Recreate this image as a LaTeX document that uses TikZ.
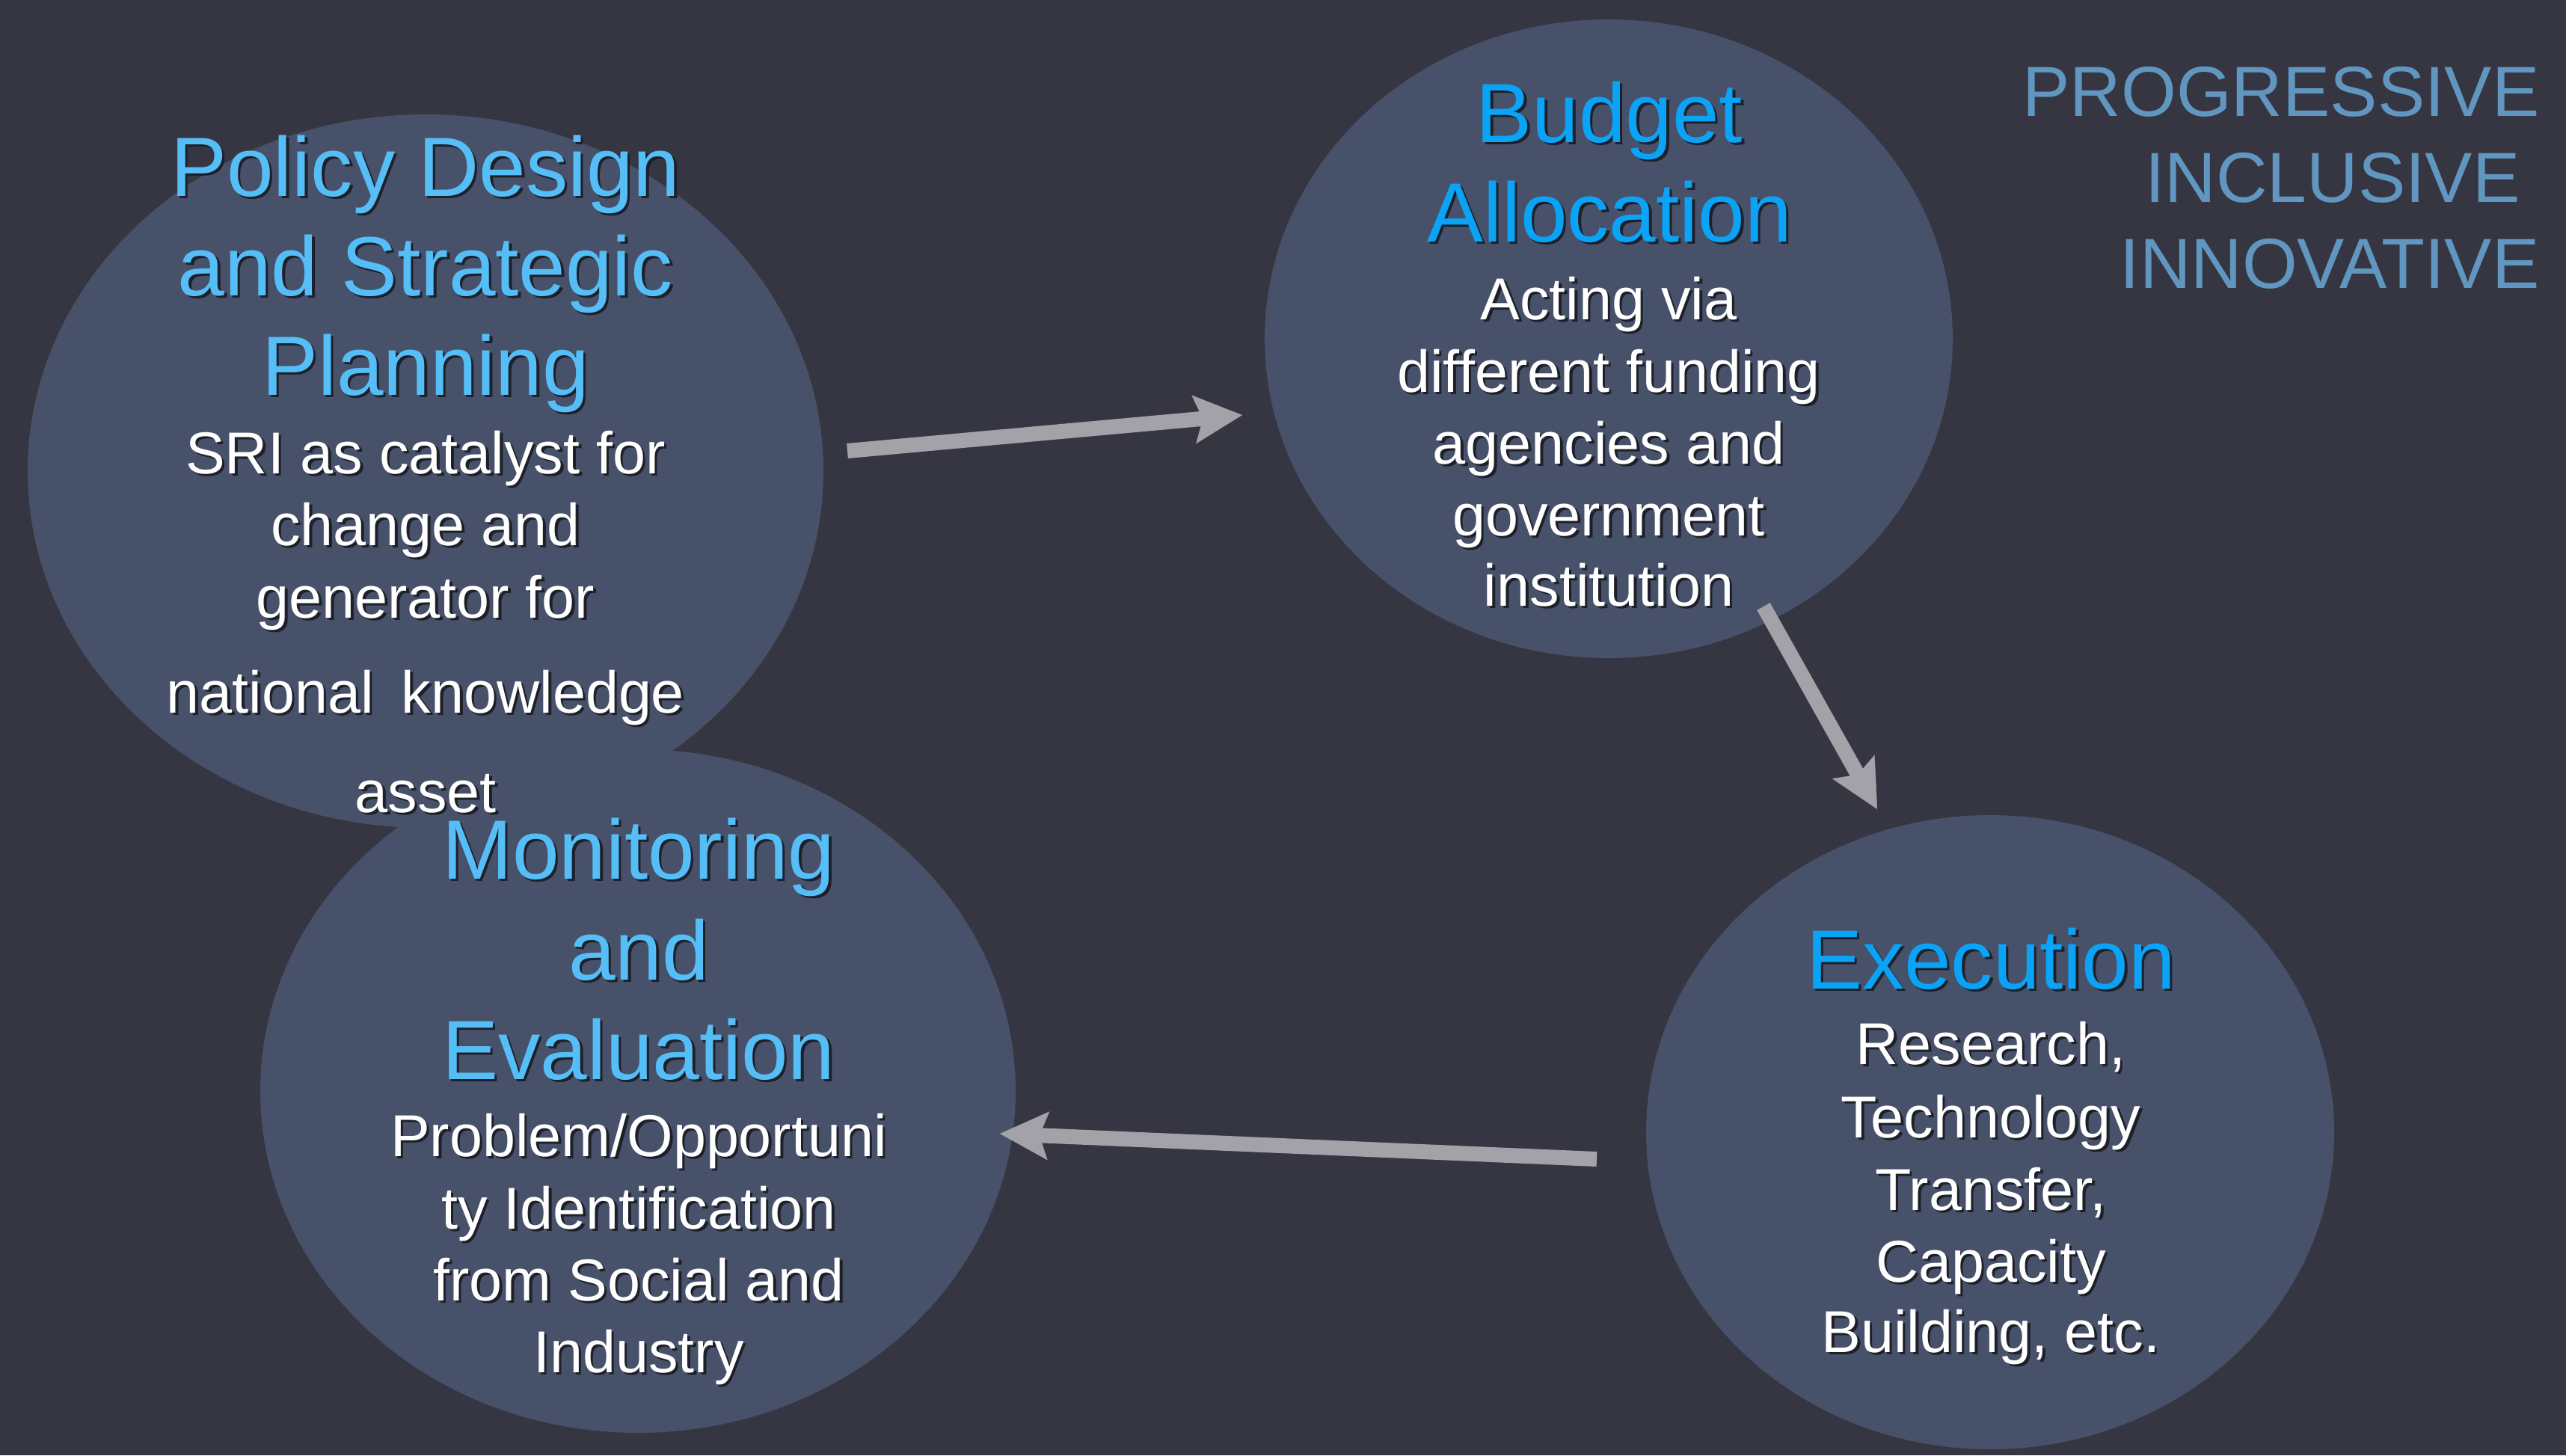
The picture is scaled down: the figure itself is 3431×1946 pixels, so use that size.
\documentclass[tikz,border=0pt]{standalone}
\usepackage{fontspec}
\setmainfont{Liberation Sans}
\usetikzlibrary{arrows.meta,shapes.geometric}
\definecolor{bgc}{HTML}{353641}
\definecolor{circc}{HTML}{47516A}
\definecolor{titlea}{HTML}{56BEF7}
\definecolor{titleb}{HTML}{0AA3F5}
\definecolor{progc}{HTML}{6096BF}
\definecolor{arrowc}{HTML}{A3A2A8}
\definecolor{shadc}{HTML}{1E2029}
\newcommand\sdw[1]{\makebox[0pt][l]{\hspace{1pt}\raisebox{-1pt}{\color{shadc}#1}}#1}
\begin{document}
\begin{tikzpicture}[x=0.1mm, y=-0.1mm,
  bubble/.style={ellipse, fill=circc, draw=none, inner sep=0pt},
  ttla/.style={anchor=base, inner sep=0pt, text=titlea, font=\fontsize{32}{38}\selectfont},
  ttlb/.style={anchor=base, inner sep=0pt, text=titleb, font=\fontsize{32}{38}\selectfont},
  body/.style={anchor=base, inner sep=0pt, text=white, font=\fontsize{22.5}{27}\selectfont},
  prog/.style={anchor=base east, inner sep=0pt, text=progc, font=\fontsize{27}{32}\selectfont},
  flow/.style={draw=arrowc, line width=2mm, line cap=butt,
    -{Stealth[length=6.5mm, width=6.5mm, inset=1.2mm, line width=0.1pt]}}
]
\useasboundingbox (0,0) rectangle (3431,1946);
\fill[bgc] (0,0) rectangle (3431,1946);

% circles
\node[bubble, minimum width=106.4mm, minimum height=95.4mm] (policy) at (569,630) {};
\node[bubble, minimum width=92mm, minimum height=85.4mm] (budget) at (2151,453) {};
\node[bubble, minimum width=92mm, minimum height=84.8mm] (execution) at (2661,1514) {};
\node[bubble, minimum width=101mm, minimum height=91.4mm] (monitor) at (853,1459) {};

% arrows
\coordinate (a1s) at (1133,603);
\coordinate (a1e) at (1661,555);
\coordinate (a2s) at (2358,811);
\coordinate (a2e) at (2510,1082);
\coordinate (a3s) at (2135,1550);
\coordinate (a3e) at (1337,1516);
\draw[flow] (a1s) -- (a1e);
\draw[flow] (a2s) -- (a2e);
\draw[flow] (a3s) -- (a3e);

% Policy
\node[ttla] (pt1) at (569,262) {\sdw{Policy Design}};
\node[ttla] (pt2) at (569,395) {\sdw{and Strategic}};
\node[ttla] (pt3) at (569,528) {\sdw{Planning}};
\node[body] (pb1) at (569,633) {\sdw{SRI as catalyst for}};
\node[body] (pb2) at (569,729) {\sdw{change and}};
\node[body] (pb3) at (569,826) {\sdw{generator for}};
\node[body] (pb4) at (569,953) {\sdw{national\hspace{0.47em}knowledge}};
\node[body] (pb5) at (569,1086) {\sdw{asset}};

% Budget
\node[ttlb] (bt1) at (2152,190) {\sdw{Budget}};
\node[ttlb] (bt2) at (2152,323) {\sdw{Allocation}};
\node[body] (bb1) at (2151,427) {\sdw{Acting via}};
\node[body] (bb2) at (2151,524) {\sdw{different funding}};
\node[body] (bb3) at (2151,620) {\sdw{agencies and}};
\node[body] (bb4) at (2151,716) {\sdw{government}};
\node[body] (bb5) at (2151,810) {\sdw{institution}};

% Execution
\node[ttlb] (et1) at (2662,1322) {\sdw{Execution}};
\node[body] (eb1) at (2662,1423) {\sdw{Research,}};
\node[body] (eb2) at (2662,1521) {\sdw{Technology}};
\node[body] (eb3) at (2662,1618) {\sdw{Transfer,}};
\node[body] (eb4) at (2662,1714) {\sdw{Capacity}};
\node[body] (eb5) at (2662,1808) {\sdw{Building, etc.}};

% Monitoring
\node[ttla] (mt1) at (854,1175) {\sdw{Monitoring}};
\node[ttla] (mt2) at (854,1310) {\sdw{and}};
\node[ttla] (mt3) at (854,1443) {\sdw{Evaluation}};
\node[body] (mb1) at (854,1546) {\sdw{Problem/Opportuni}};
\node[body] (mb2) at (854,1643) {\sdw{ty Identification}};
\node[body] (mb3) at (854,1739) {\sdw{from Social and}};
\node[body] (mb4) at (854,1835) {\sdw{Industry}};

% top right
\node[prog] (g1) at (3396,155) {PROGRESSIVE};
\node[prog] (g2) at (3370,270) {INCLUSIVE};
\node[prog] (g3) at (3396,385) {INNOVATIVE};
\end{tikzpicture}
\end{document}
